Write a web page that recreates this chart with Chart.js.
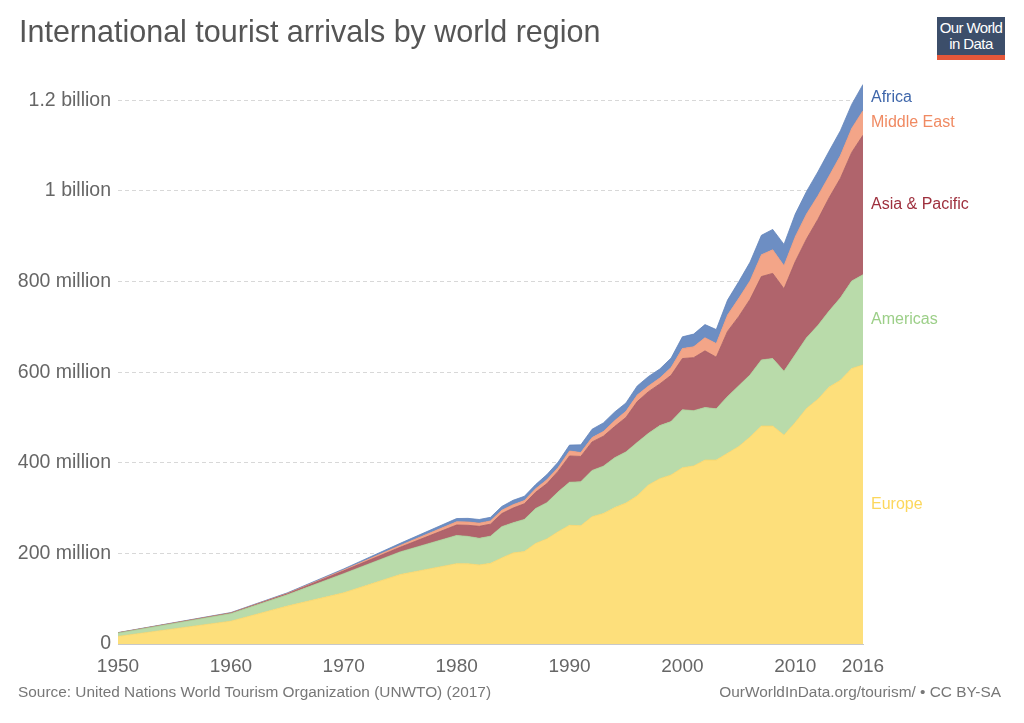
<!DOCTYPE html>
<html>
<head>
<meta charset="utf-8">
<script src="https://cdn.jsdelivr.net/npm/chart.js@4"></script>
<style>
    body { margin: 0; background: #fff; font-family: "Liberation Sans", Arial, sans-serif; }
    #wrap { position: relative; width: 1024px; height: 723px; }
    #title { position: absolute; left: 19px; top: 14px; font-size: 30.5px; color: #555; white-space: nowrap; }
    #logo { position: absolute; left: 937px; top: 17px; width: 68px; height: 43px; background: #3c4e6a; border-bottom: 5px solid #e4573a; box-sizing: border-box; color: #fff; font-size: 15px; line-height: 16px; padding: 3px 0 0 0; text-align: center; letter-spacing: -0.6px; }
    .foot { position: absolute; top: 683px; font-size: 15.4px; color: #777; white-space: nowrap; }
    #myChart { position: absolute; left: 0; top: 0; }
</style>
</head>
<body>
<div id="wrap">
    <canvas id="myChart" width="1024" height="723"></canvas>
    <div id="title">International tourist arrivals by world region</div>
    <div id="logo">Our World<br>in Data</div>
    <div class="foot" style="left:18px">Source: United Nations World Tourism Organization (UNWTO) (2017)</div>
    <div class="foot" style="right:23px">OurWorldInData.org/tourism/ • CC BY-SA</div>
</div>
<script>
// values in millions of arrivals
const years = [1950, 1960, 1965, 1970, 1975, 1980, 1981, 1982, 1983, 1984, 1985, 1986, 1987, 1988, 1989,
    1990, 1991, 1992, 1993, 1994, 1995, 1996, 1997, 1998, 1999, 2000, 2001, 2002, 2003, 2004, 2005,
    2006, 2007, 2008, 2009, 2010, 2011, 2012, 2013, 2014, 2015, 2016];
const europe = [16.8, 50.4, 83.7, 113, 153.3, 177.3, 177, 174.5, 178, 190, 201, 204, 222, 232, 248,
    262, 261, 281, 288, 301, 311, 327, 351, 365, 373, 389, 393, 406, 406, 421, 436,
    457, 481, 481, 461, 489, 520, 540, 567, 582, 608, 616];
const americas = [7.5, 16.7, 24.8, 42.3, 50, 62.3, 60.5, 58.7, 60, 69, 66.5, 71, 77, 80, 88,
    95, 97, 102, 104.5, 110, 113, 118, 114, 117, 118, 128, 122, 116, 113, 125, 134,
    137, 146, 149, 141, 150, 156, 163, 168, 182, 193, 199];
const asiaPacific = [0.2, 0.9, 2.1, 6.2, 10.2, 23, 24.5, 26.5, 26.5, 28.8, 32.5, 34.5, 36, 42, 45.5,
    58, 56, 63, 66, 69, 76, 90, 92, 92, 102, 113, 117, 125, 114, 144, 153,
    167, 184, 188, 182, 205, 218, 234, 250, 264, 284, 308];
const middleEast = [0.2, 0.6, 1, 1.9, 4, 7.1, 7.3, 7, 7.1, 7.3, 7.5, 7, 7.5, 8.5, 8.2,
    11, 8.5, 9.5, 10.5, 13, 13.5, 14.5, 12.5, 13, 17, 22, 24, 29, 30, 36, 40,
    41, 48, 52, 51, 55, 55, 52, 48, 50, 53, 54];
const africa = [0.5, 0.8, 1.3, 2.4, 4.7, 7.2, 8, 8.1, 8, 8.5, 9.7, 9.5, 9.5, 11.5, 12,
    13, 17, 18.5, 19, 19, 18.5, 20, 21, 20, 21, 26, 28, 29, 31, 33, 37,
    41, 43, 45, 47, 50, 50, 53, 55, 55, 53, 58];

const regionNames = ["Europe", "Americas", "Asia & Pacific", "Middle East", "Africa"];
const xTicks = [1950, 1960, 1970, 1980, 1990, 2000, 2010, 2016];
const yTicks = [0, 200, 400, 600, 800, 1000, 1200];
const yTickLabels = ["0", "200 million", "400 million", "600 million", "800 million", "1 billion", "1.2 billion"];

const fillColors = ["#fddf7b", "#b9dbaa", "#b0646c", "#f3a588", "#6d8ec3"];
const lineColors = ["#f7d469", "#a8cf97", "#a35860", "#ee9878", "#6284bb"];
const labelColors = ["#fcd75c", "#9ccf88", "#9e2f3d", "#f08a62", "#3e66aa"];

var myChart = null;

document.addEventListener("DOMContentLoaded", function(){
    initChart();
});

function toPoints(values){
    return years.map(function(yr, i){ return {x: yr, y: values[i]}; });
}

// region names written at the right end, centred on each band
const endLabels = {
    id: "endLabels",
    afterDatasetsDraw: function(chart){
        const ctx = chart.ctx;
        const yScale = chart.scales.y;
        const last = years.length - 1;
        let base = 0;
        ctx.save();
        ctx.font = "16px 'Liberation Sans', Arial, sans-serif";
        ctx.textBaseline = "middle";
        chart.data.datasets.forEach(function(ds, i){
            const v = ds.data[last].y;
            const mid = (yScale.getPixelForValue(base) + yScale.getPixelForValue(base + v)) / 2;
            ctx.fillStyle = labelColors[i];
            ctx.fillText(regionNames[i], chart.chartArea.right + 8, mid);
            base += v;
        });
        ctx.restore();
    }
};

function initChart(){
    const series = [europe, americas, asiaPacific, middleEast, africa];
    const datasets = series.map(function(values, i){
        return {
            label: regionNames[i],
            data: toPoints(values),
            backgroundColor: fillColors[i],
            borderColor: lineColors[i],
            borderWidth: 0.8,
            pointRadius: 0,
            tension: 0,
            fill: i === 0 ? "origin" : "-1"
        };
    });

    const ctx = document.getElementById("myChart").getContext("2d");
    myChart = new Chart(ctx, {
        type: "line",
        data: { datasets: datasets },
        plugins: [endLabels],
        options: {
            responsive: false,
            animation: false,
            layout: { padding: { left: 0, right: 161, top: 55, bottom: 49 } },
            plugins: { legend: { display: false }, tooltip: { enabled: false } },
            scales: {
                x: {
                    type: "linear",
                    min: 1950,
                    max: 2016,
                    afterBuildTicks: function(scale){
                        scale.ticks = xTicks.map(function(v){ return {value: v}; });
                    },
                    afterFit: function(scale){ scale.height = 30; },
                    grid: { display: false },
                    border: { display: true, color: "#c8c8c8" },
                    ticks: {
                        autoSkip: false,
                        maxRotation: 0,
                        padding: 3,
                        color: "#666",
                        font: { family: "'Liberation Sans', Arial, sans-serif", size: 19 },
                        callback: function(v){ return String(v); }
                    }
                },
                y: {
                    stacked: true,
                    min: 0,
                    max: 1300,
                    afterBuildTicks: function(scale){
                        scale.ticks = yTicks.map(function(v){ return {value: v}; });
                    },
                    afterFit: function(scale){ scale.width = 118; },
                    grid: {
                        drawTicks: false,
                        color: function(c){ return c.tick.value === 0 ? "rgba(0,0,0,0)" : "#d8d8d8"; }
                    },
                    border: { display: false, dash: [4, 3] },
                    ticks: {
                        padding: 7,
                        color: "#666",
                        font: { family: "'Liberation Sans', Arial, sans-serif", size: 19.5 },
                        callback: function(v){ return yTickLabels[yTicks.indexOf(v)]; }
                    }
                }
            }
        }
    });
}
</script>
</body>
</html>
